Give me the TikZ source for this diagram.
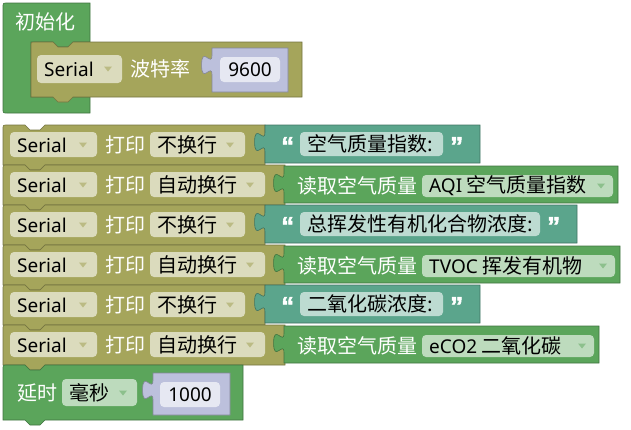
\documentclass[tikz,border=0pt]{standalone}
\usepackage{fontspec}
\setmainfont{Noto Sans CJK SC}
\newfontfamily\latf{Noto Sans}
\newfontfamily\qtf[FakeBold=2]{Liberation Sans}
\newcommand\lt[1]{{\latf\fontsize{19}{22}\selectfont #1}}
\definecolor{bgreen}{RGB}{91,165,91}
\definecolor{bolive}{RGB}{165,165,91}
\definecolor{bteal}{RGB}{91,165,140}
\definecolor{blav}{RGB}{188,192,220}
\definecolor{fgreen}{RGB}{189,219,189}
\definecolor{folive}{RGB}{219,219,189}
\definecolor{fteal}{RGB}{189,219,209}
\definecolor{flav}{RGB}{230,232,242}
\tikzset{
  lbl/.style={font=\fontsize{20}{22}\selectfont, inner sep=0pt, text=white},
  ftxt/.style={font=\fontsize{20}{22}\selectfont, inner sep=0pt, text=black},
  qt/.style={font=\qtf\bfseries\fontsize{26}{26}\selectfont, inner sep=0pt, text=white, anchor=base west},
}
% statement block: L T R B colour
\newcommand\stmtblk[5]{\filldraw[fill=#5,draw=#5!70!black,line width=0.6pt]
  (#1,#4) -- (#1,#2+4) .. controls (#1,#2) .. (#1+4,#2) -- (#1+22,#2) -- (#1+27,#2+5) -- (#1+37,#2+5) -- (#1+42,#2) -- (#3,#2) -- (#3,#4)
  -- (#1+42,#4) -- (#1+37,#4+5) -- (#1+27,#4+5) -- (#1+22,#4) -- cycle;}
% value block with output tab: L T R B colour
\newcommand\valblk[5]{\filldraw[fill=#5,draw=#5!70!black,line width=0.6pt]
  (#1,#2) -- (#3,#2) -- (#3,#4) -- (#1,#4) -- (#1,#2+27)
  .. controls (#1,#2+14) and (#1-10.4,#2+37) .. (#1-10.4,#2+17)
  .. controls (#1-10.4,#2-3) and (#1,#2+20) .. (#1,#2+7) -- cycle;}
% field: x1 y1 x2 y2 colour
\newcommand\fld[5]{\fill[#5,rounded corners=4pt] (#1,#2) rectangle (#3,#4);}
% dropdown arrow: x y colour
\newcommand\darr[3]{\fill[#3] (#1-4,#2-2.5) -- (#1+4,#2-2.5) -- (#1,#2+2.5) -- cycle;}
% print row: T name modeText modeFieldRight modeArrowX blockRight
\newcommand\prow[6]{%
  \stmtblk{3}{#1}{#6}{#1+40}{bolive}
  \fld{10}{#1+7}{97}{#1+32}{folive}
  \node[ftxt,anchor=west] (#2ser) at (17,#1+20) {\lt{Serial}};
  \darr{83}{#1+20}{bolive!75!white}
  \node[lbl,anchor=west] (#2prt) at (105,#1+20) {打印};
  \fld{150}{#1+7}{#4}{#1+32}{folive}
  \node[ftxt,anchor=west] (#2mode) at (157,#1+20) {#3};
  \darr{#5}{#1+20}{bolive!75!white}}
% text row: T name text fieldRight
\newcommand\trow[4]{%
  \valblk{265}{#1}{#4+37}{#1+38}{bteal}
  \node[qt] (#2lq) at (281,#1+30) {“};
  \fld{300}{#1+7}{#4}{#1+31}{fteal}
  \node[ftxt,anchor=west] (#2txt) at (307,#1+19) {#3};
  \node[qt] (#2rq) at (#4+7,#1+30) {”};}
% sensor row: T name text fieldRight
\newcommand\srow[4]{%
  \valblk{284}{#1+1}{#4+5}{#1+38}{bgreen}
  \node[lbl,anchor=west] (#2lbl) at (297,#1+21) {读取空气质量};
  \fld{422}{#1+10}{#4}{#1+32}{fgreen}
  \node[ftxt,anchor=west] (#2sel) at (429,#1+21) {#3};
  \darr{#4-12}{#1+21}{bgreen!70!white}}
\begin{document}
\begin{tikzpicture}[x=1pt,y=-1pt]
\useasboundingbox (0,0) rectangle (631,429);
% ---------- setup block ----------
\filldraw[fill=bgreen,draw=bgreen!70!black,line width=0.6pt]
  (3,109) -- (3,7) .. controls (3,3) .. (7,3) -- (90,3) -- (90,42) -- (73,42) -- (68,47) -- (58,47) -- (53,42)
  -- (31,42) -- (31,97) -- (90,97) -- (90,113) -- (7,113) .. controls (3,113) .. (3,109) -- cycle;
\node[lbl,anchor=west] (init) at (15,22) {初始化};
\stmtblk{31}{42}{302}{97}{bolive}
\fld{37}{55}{122}{83}{folive}
\node[ftxt,anchor=west] (bser) at (44,69) {\lt{Serial}};
\darr{108}{69}{bolive!75!white}
\node[lbl,anchor=west] (baud) at (130,69) {波特率};
\valblk{212}{48}{288}{92}{blav}
\fld{220}{57}{280}{82}{flav}
\node[ftxt] (bnum) at (250,69.5) {\lt{9600}};
% ---------- print rows ----------
\prow{125}{ra}{不换行}{245}{230}{265}
\prow{165}{rb}{自动换行}{265}{250}{285}
\prow{205}{rc}{不换行}{245}{230}{265}
\prow{245}{rd}{自动换行}{265}{250}{285}
\prow{285}{re}{不换行}{245}{230}{265}
\prow{325}{rf}{自动换行}{265}{250}{285}
\trow{125}{ta}{空气质量指数:}{443}
\srow{165}{sa}{\lt{AQI} 空气质量指数}{613}
\trow{205}{tb}{总挥发性有机化合物浓度:}{540}
\srow{245}{sb}{\lt{TVOC} 挥发有机物}{615}
\trow{285}{tc}{二氧化碳浓度:}{443}
\srow{325}{sc}{\lt{eCO2} 二氧化碳}{594}
% ---------- delay block ----------
\stmtblk{3}{365}{243}{420}{bgreen}
\node[lbl,anchor=west] (delay) at (17,393) {延时};
\fld{62}{379}{137}{406}{fgreen}
\node[ftxt,anchor=west] (unit) at (69,393) {毫秒};
\darr{123}{393}{bgreen!70!white}
\valblk{153}{373}{230}{415}{blav}
\fld{160}{382}{220}{407}{flav}
\node[ftxt] (dnum) at (190,394.5) {\lt{1000}};
\end{tikzpicture}
\end{document}
